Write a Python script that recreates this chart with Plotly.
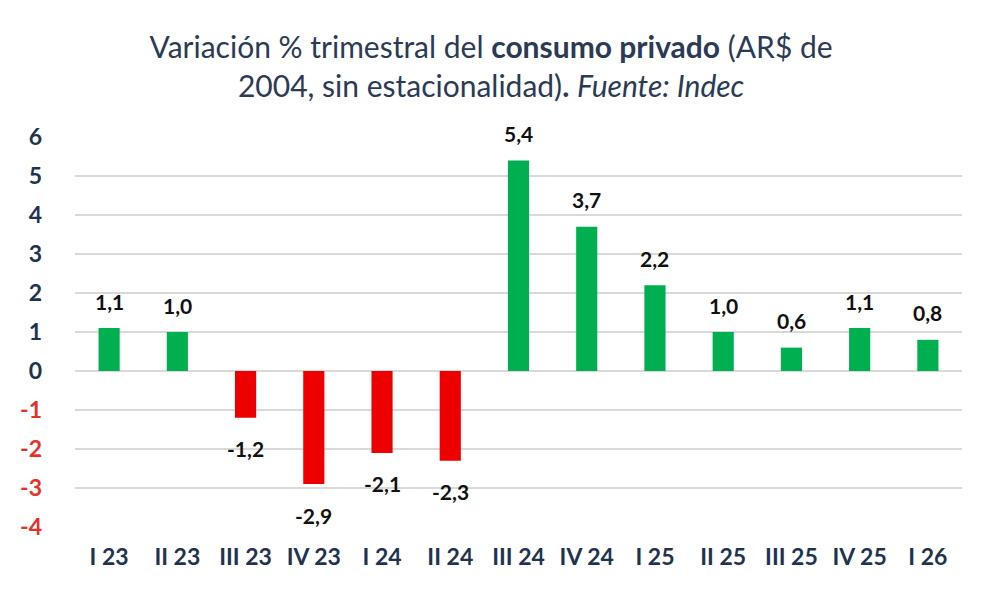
import plotly.graph_objects as go

trimestres = ['I 23', 'II 23', 'III 23', 'IV 23', 'I 24', 'II 24', 'III 24',
              'IV 24', 'I 25', 'II 25', 'III 25', 'IV 25', 'I 26']
variacion = [1.1, 1.0, -1.2, -2.9, -2.1, -2.3, 5.4, 3.7, 2.2, 1.0, 0.6, 1.1, 0.8]
y_ticks = [6, 5, 4, 3, 2, 1, 0, -1, -2, -3, -4]

VERDE = '#00B050'
ROJO = '#EE0000'
AZUL = '#1F3350'

colores = [VERDE if v >= 0 else ROJO for v in variacion]
etiquetas = [f'{v:.1f}'.replace('.', ',') for v in variacion]

fig = go.Figure()
fig.add_trace(go.Bar(
    x=trimestres, y=variacion,
    marker=dict(color=colores, line=dict(width=0)),
    width=0.31,
    hoverinfo='x+y',
))

# etiquetas de datos
for t, v, txt in zip(trimestres, variacion, etiquetas):
    fig.add_annotation(
        x=t, y=v, text=f'<b>{txt}</b>', showarrow=False,
        yshift=27 if v >= 0 else -31,
        font=dict(family='Lato', size=21, color='#111111'),
    )

tick_text = [f"<span style='color:{AZUL if t >= 0 else '#E8302A'}'>{t}</span>" for t in y_ticks]

fig.update_layout(
    width=992, height=595,
    paper_bgcolor='white', plot_bgcolor='white',
    margin=dict(l=65, r=38, t=129, b=76),
    showlegend=False,
    title=dict(
        text="Variación % trimestral del <b>consumo privado</b> (AR$ de<br>"
             "2004, sin estacionalidad)<b>.</b> <i>Fuente: Indec</i>",
        x=0.487, xanchor='center', y=0.916, yanchor='middle',
        font=dict(family='Lato', size=30, color='#2B3A55'),
    ),
    xaxis=dict(
        tickfont=dict(family='Lato', size=23, color=AZUL, weight='bold'),
        showgrid=False, showline=False, ticks='',
        ticklabelstandoff=14,
    ),
    yaxis=dict(
        range=[-4, 6],
        tickvals=y_ticks, ticktext=tick_text,
        tickfont=dict(family='Lato', size=23, weight='bold'),
        showgrid=True, gridcolor='#D9D9D9', gridwidth=1.5,
        zeroline=True, zerolinecolor='#D9D9D9', zerolinewidth=1.5,
        showline=False, ticks='',
        ticklabelstandoff=32,
    ),
)

fig.write_html('out.html')
